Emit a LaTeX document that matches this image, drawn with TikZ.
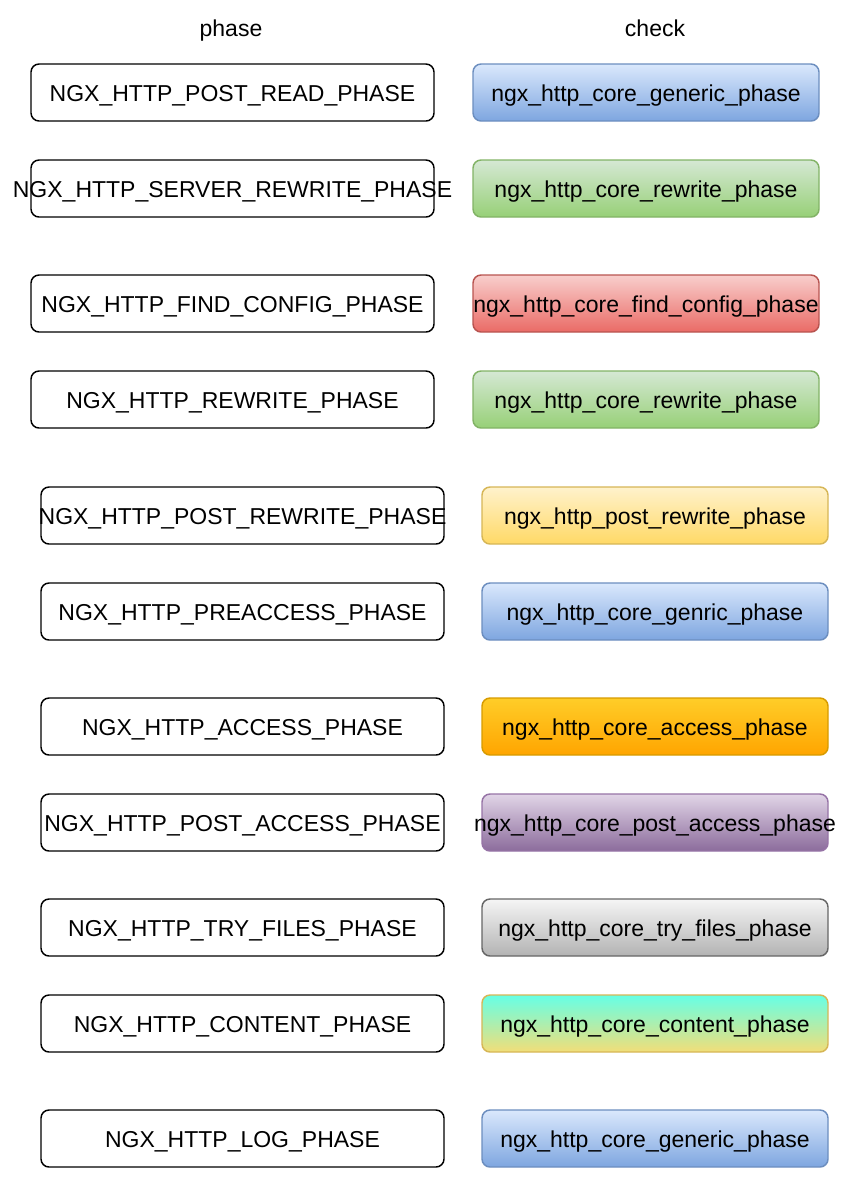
\documentclass[tikz,border=0pt]{standalone}
\usepackage{fontspec}
\setmainfont{Liberation Sans}
\newdimen\pxu
\pxu=0.75pt
\definecolor{bS}{HTML}{6C8EBF}\definecolor{bT}{HTML}{DAE8FC}\definecolor{bB}{HTML}{7EA6E0}
\definecolor{gS}{HTML}{82B366}\definecolor{gT}{HTML}{D5E8D4}\definecolor{gB}{HTML}{97D077}
\definecolor{rS}{HTML}{B85450}\definecolor{rT}{HTML}{F8CECC}\definecolor{rB}{HTML}{EA6B66}
\definecolor{yS}{HTML}{D6B656}\definecolor{yT}{HTML}{FFF2CC}\definecolor{yB}{HTML}{FFD966}
\definecolor{oS}{HTML}{D79B00}\definecolor{oT}{HTML}{FFCD28}\definecolor{oB}{HTML}{FFA500}
\definecolor{vS}{HTML}{9673A6}\definecolor{vT}{HTML}{E1D5E7}\definecolor{vB}{HTML}{8C6C9C}
\definecolor{kS}{HTML}{666666}\definecolor{kT}{HTML}{F5F5F5}\definecolor{kB}{HTML}{B3B3B3}
\definecolor{cT}{HTML}{66FFE6}\definecolor{cB}{HTML}{F2DE78}
\begin{document}
\begin{tikzpicture}[x=0.75pt,y=-0.75pt,
  txt/.style={font=\fontsize{17.25pt}{20pt}\selectfont, text=black, inner sep=0pt,
    text height=13.5pt, text depth=0.75pt},
  box/.style={rounded corners=6pt, line width=1.1pt, minimum height=57\pxu, inner sep=0pt},
  pbox/.style={box, draw=black, fill=white, minimum width=403\pxu},
  cbox/.style={box, minimum width=346\pxu},
  blu/.style={cbox, draw=bS, top color=bT, bottom color=bB},
  grn/.style={cbox, draw=gS, top color=gT, bottom color=gB},
  red/.style={cbox, draw=rS, top color=rT, bottom color=rB},
  yel/.style={cbox, draw=yS, top color=yT, bottom color=yB},
  org/.style={cbox, draw=oS, top color=oT, bottom color=oB},
  vio/.style={cbox, draw=vS, top color=vT, bottom color=vB},
  gry/.style={cbox, draw=kS, top color=kT, bottom color=kB},
  cyn/.style={cbox, draw=yS, top color=cT, bottom color=cB},
  lab/.style={label={[txt]center:#1}}
]
\useasboundingbox (0,0) rectangle (860,1190);
\node[txt] (hphase) at (231,27.5) {phase};
\node[txt] (hcheck) at (655,27.5) {check};
% left column
\node[pbox, lab={NGX\_HTTP\_POST\_READ\_PHASE}] (p1) at (232.5,92.5) {};
\node[pbox, lab={NGX\_HTTP\_SERVER\_REWRITE\_PHASE}] (p2) at (232.5,188.5) {};
\node[pbox, lab={NGX\_HTTP\_FIND\_CONFIG\_PHASE}] (p3) at (232.5,303.5) {};
\node[pbox, lab={NGX\_HTTP\_REWRITE\_PHASE}] (p4) at (232.5,399.5) {};
\node[pbox, lab={NGX\_HTTP\_POST\_REWRITE\_PHASE}] (p5) at (242.5,515.5) {};
\node[pbox, lab={NGX\_HTTP\_PREACCESS\_PHASE}] (p6) at (242.5,611.5) {};
\node[pbox, lab={NGX\_HTTP\_ACCESS\_PHASE}] (p7) at (242.5,726.5) {};
\node[pbox, lab={NGX\_HTTP\_POST\_ACCESS\_PHASE}] (p8) at (242.5,822.5) {};
\node[pbox, lab={NGX\_HTTP\_TRY\_FILES\_PHASE}] (p9) at (242.5,927.5) {};
\node[pbox, lab={NGX\_HTTP\_CONTENT\_PHASE}] (p10) at (242.5,1023.5) {};
\node[pbox, lab={NGX\_HTTP\_LOG\_PHASE}] (p11) at (242.5,1138.5) {};
% right column
\node[blu, lab={ngx\_http\_core\_generic\_phase}] (c1) at (646,92.5) {};
\node[grn, lab={ngx\_http\_core\_rewrite\_phase}] (c2) at (646,188.5) {};
\node[red, lab={ngx\_http\_core\_find\_config\_phase}] (c3) at (646,303.5) {};
\node[grn, lab={ngx\_http\_core\_rewrite\_phase}] (c4) at (646,399.5) {};
\node[yel, lab={ngx\_http\_post\_rewrite\_phase}] (c5) at (655,515.5) {};
\node[blu, lab={ngx\_http\_core\_genric\_phase}] (c6) at (655,611.5) {};
\node[org, lab={ngx\_http\_core\_access\_phase}] (c7) at (655,726.5) {};
\node[vio, lab={ngx\_http\_core\_post\_access\_phase}] (c8) at (655,822.5) {};
\node[gry, lab={ngx\_http\_core\_try\_files\_phase}] (c9) at (655,927.5) {};
\node[cyn, lab={ngx\_http\_core\_content\_phase}] (c10) at (655,1023.5) {};
\node[blu, lab={ngx\_http\_core\_generic\_phase}] (c11) at (655,1138.5) {};
\end{tikzpicture}
\end{document}
